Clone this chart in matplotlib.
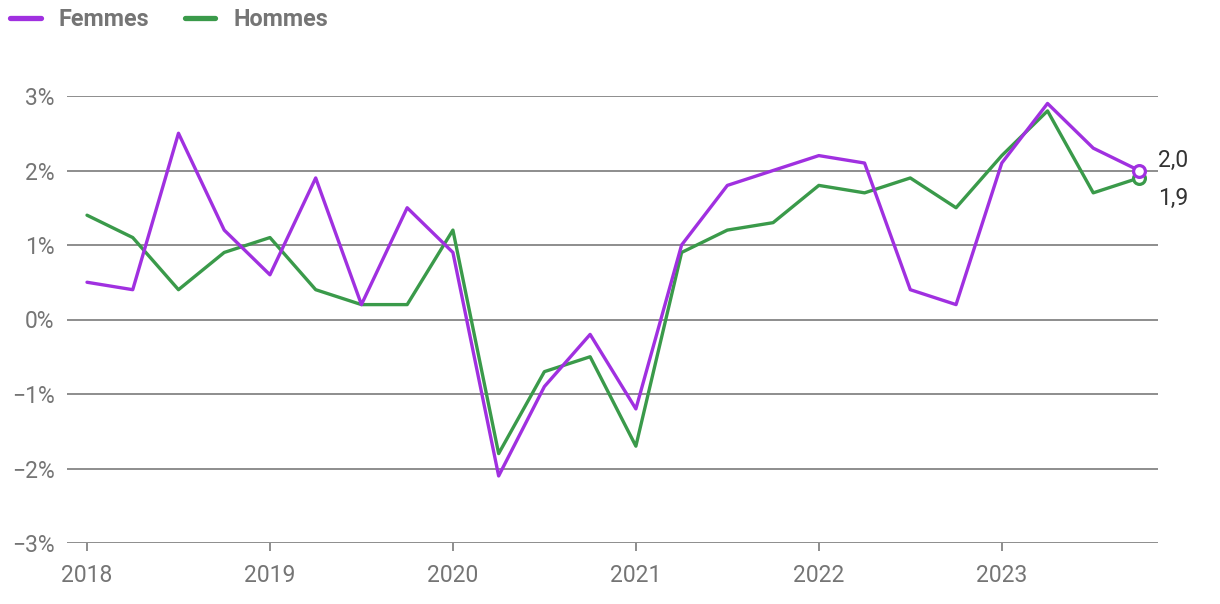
import matplotlib
matplotlib.use("Agg")
import matplotlib.pyplot as plt
import numpy as np
from matplotlib.lines import Line2D

quarters = list(range(24))
years = [2018, 2019, 2020, 2021, 2022, 2023]
femmes = [0.5, 0.4, 2.5, 1.2, 0.6, 1.9, 0.2, 1.5, 0.9, -2.1, -0.9, -0.2,
          -1.2, 1.0, 1.8, 2.0, 2.2, 2.1, 0.4, 0.2, 2.1, 2.9, 2.3, 2.0]
hommes = [1.4, 1.1, 0.4, 0.9, 1.1, 0.4, 0.2, 0.2, 1.2, -1.8, -0.7, -0.5,
          -1.7, 0.9, 1.2, 1.3, 1.8, 1.7, 1.9, 1.5, 2.2, 2.8, 1.7, 1.9]
yticks = [-3, -2, -1, 0, 1, 2, 3]
ytick_labels = ["\u22123%", "\u22122%", "\u22121%", "0%", "1%", "2%", "3%"]
end_labels = ["2,0", "1,9"]
series_names = ["Femmes", "Hommes"]

purple = "#a030e0"
green = "#3a9a4a"
grid_c = "#7a7a7a"
text_c = "#757575"
FS = 16.5

plt.rcParams['font.family'] = ['Roboto', 'DejaVu Sans']

W, H = 1220, 604
fig = plt.figure(figsize=(W / 100, H / 100), dpi=100)
ax = fig.add_axes([67 / W, 1 - 543 / H, (1158 - 67) / W, (543 - 96) / H])

x = np.array(quarters)
ax.plot(x, hommes, color=green, lw=2.4, zorder=3, clip_on=False, solid_capstyle='round')
ax.plot(x, femmes, color=purple, lw=2.4, zorder=4, clip_on=False, solid_capstyle='round')
ax.plot(x[-1], hommes[-1], 'o', ms=8.5, mfc='white', mec=green, mew=2.3, zorder=5, clip_on=False)
ax.plot(x[-1], femmes[-1], 'o', ms=8.5, mfc='white', mec=purple, mew=2.3, zorder=6, clip_on=False)

ax.annotate(end_labels[0], (x[-1], femmes[-1]), xytext=(14, 7), textcoords='offset points',
            fontsize=FS, color='#333333', va='center', ha='left', annotation_clip=False)
ax.annotate(end_labels[1], (x[-1], hommes[-1]), xytext=(14, -14.5), textcoords='offset points',
            fontsize=FS, color='#333333', va='center', ha='left', annotation_clip=False)

step = (1139 - 87) / 23
ax.set_xlim(-20 / step, 23 + 19 / step)
ax.set_ylim(-3, 3)

for y in yticks:
    ax.axhline(y, color=grid_c, lw=1.2, zorder=1)

ax.set_yticks(yticks)
ax.set_yticklabels(ytick_labels)
ax.set_xticks([(yr - years[0]) * 4 for yr in years])
ax.set_xticklabels([str(yr) for yr in years])
ax.tick_params(axis='y', length=0, pad=9, labelsize=FS, labelcolor=text_c)
ax.tick_params(axis='x', length=6, width=1.2, color=grid_c, pad=9, labelsize=FS, labelcolor=text_c)
for s in ax.spines.values():
    s.set_visible(False)

# legend drawn in figure pixel coordinates
def fx(px):
    return px / W

def fy(py):
    return 1 - py / H

leg_colors = [purple, green]
leg_line_x = [(10, 41), (185, 215)]
leg_text_x = [59, 233]
for name, c, (x0, x1), tx in zip(series_names, leg_colors, leg_line_x, leg_text_x):
    fig.add_artist(Line2D([fx(x0), fx(x1)], [fy(18), fy(18)], color=c, lw=3.8,
                          solid_capstyle='round', transform=fig.transFigure))
    fig.text(fx(tx), fy(20), name, fontsize=FS + 0.3, fontweight='bold', color=text_c,
             va='center', ha='left')

fig.savefig("out.png", dpi=100)
